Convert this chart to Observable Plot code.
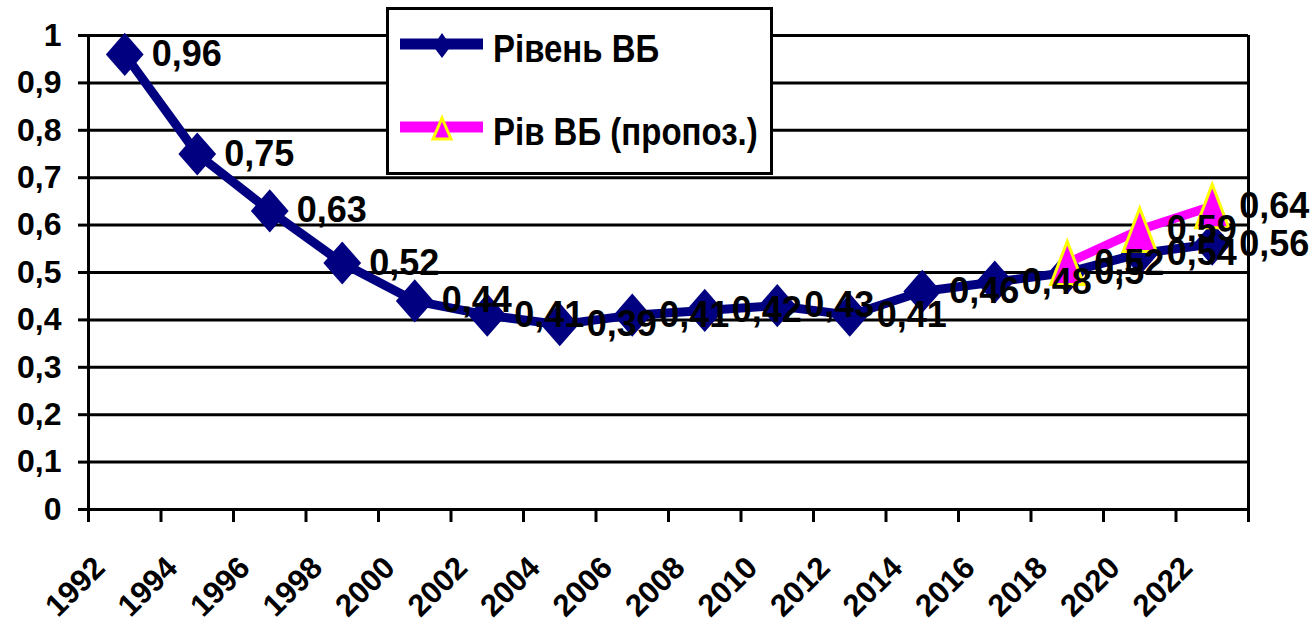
<!DOCTYPE html>
<html>
<head>
<meta charset="utf-8">
<script src="https://cdn.jsdelivr.net/npm/d3@7"></script>
<script src="https://cdn.jsdelivr.net/npm/@observablehq/plot@0.6"></script>
<style>
  html, body { margin: 0; padding: 0; background: #fff; }
  #wrap { position: relative; width: 1314px; height: 631px; font-family: "Liberation Sans", Arial, sans-serif; }
  #legend { position: absolute; left: 386px; top: 7px; width: 381px; height: 162px; border: 3px solid #000; background: #fff; }
</style>
</head>
<body>
<div id="wrap"><div id="chart"></div><div id="legend"></div></div>
<script>
// ---- data ----
const years = [1992, 1994, 1996, 1998, 2000, 2002, 2004, 2006, 2008, 2010, 2012, 2014, 2016, 2018, 2020, 2022];
const level = [0.96, 0.75, 0.63, 0.52, 0.44, 0.41, 0.39, 0.41, 0.42, 0.43, 0.41, 0.46, 0.48, 0.5, 0.54, 0.56];
const forecastYears = [2018, 2020, 2022];
const forecast = [0.52, 0.59, 0.64];
const yTicks = [0, 0.1, 0.2, 0.3, 0.4, 0.5, 0.6, 0.7, 0.8, 0.9, 1];
const seriesNames = ["Рівень ВБ", "Рів ВБ (пропоз.)"];

const navy = "#000080", magenta = "#FF00FF", yellow = "#FFFF00";
const fmt = v => String(v).replace(".", ",");

// category boundaries (each category is 2 years wide, centred on its label year)
const xMin = years[0] - 1, xMax = years[years.length - 1] + 1;
const boundaries = years.map(y => y - 1).concat([xMax]);

const diamond = {
  draw(ctx, size) {
    const r = Math.sqrt(size / Math.PI);
    const h = r * 1.2, w = r * 1.05;
    ctx.moveTo(0, -h); ctx.lineTo(w, 0); ctx.lineTo(0, h); ctx.lineTo(-w, 0); ctx.closePath();
  }
};
const triangle = {
  draw(ctx, size) {
    const r = Math.sqrt(size / Math.PI);
    const h = r * 1.2, w = r * 0.92;
    ctx.moveTo(0, -h); ctx.lineTo(w, h); ctx.lineTo(-w, h); ctx.closePath();
  }
};

const font = "'Liberation Sans', Arial, sans-serif";

const chart = Plot.plot({
  width: 1314,
  height: 631,
  marginLeft: 88,
  marginRight: 66,
  marginTop: 35,
  marginBottom: 122,
  style: { fontFamily: font, background: "#fff", color: "#000", overflow: "visible" },
  x: { type: "linear", domain: [xMin, xMax] },
  y: { domain: [0, 1] },
  marks: [
    Plot.gridY(yTicks, { stroke: "#000", strokeOpacity: 1, strokeWidth: 3 }),
    Plot.axisY(yTicks, { tickSize: 10, tickPadding: 17, strokeWidth: 3, fontSize: 32, fontWeight: "bold", tickFormat: fmt, label: null }),
    Plot.axisX(boundaries, { tickSize: 13, strokeWidth: 3, tickFormat: () => "", label: null }),
    Plot.ruleX([xMin, xMax], { stroke: "#000", strokeWidth: 3 }),
    Plot.text(years, { x: years, frameAnchor: "bottom", text: years.map(String), dy: 53, dx: -25, rotate: -45, textAnchor: "end", lineAnchor: "middle", fontSize: 31, fontWeight: "bold", fill: "#000", ariaLabel: "xlabels" }),
    Plot.line(level, { x: years, y: level, stroke: navy, strokeWidth: 9, strokeLinejoin: "round" }),
    Plot.dot(level, { x: years, y: level, symbol: diamond, r: 18, fill: navy, stroke: "none" }),
    Plot.line(forecast, { x: forecastYears, y: forecast, stroke: magenta, strokeWidth: 9, strokeLinejoin: "round" }),
    Plot.dot(forecast, { x: forecastYears, y: forecast, symbol: triangle, r: 18, fill: magenta, stroke: yellow, strokeWidth: 3 }),
    Plot.text(level, { x: years, y: level, text: level.map(fmt), dx: 27, textAnchor: "start", lineAnchor: "middle", fontSize: 36, fontWeight: "bold", fill: "#000", ariaLabel: "vlabels" }),
    Plot.text(forecast, { x: forecastYears, y: forecast, text: forecast.map(fmt), dx: 27, textAnchor: "start", lineAnchor: "middle", fontSize: 36, fontWeight: "bold", fill: "#000", ariaLabel: "vlabels" })
  ]
});
document.getElementById("chart").appendChild(chart);

// slight vertical stretch of the value labels, as in the reference rendering
d3.select(chart).selectAll('g[aria-label="vlabels"] text').each(function () {
  const t = d3.select(this);
  const tr = t.attr("transform");
  if (tr) {
    t.attr("transform", tr + " scale(1,1.12)");
  } else {
    const x = +t.attr("x") || 0, y = +t.attr("y") || 0;
    t.attr("x", null).attr("y", null).attr("transform", `translate(${x},${y}) scale(1,1.12)`);
  }
});

// ---- legend (overlaid box) ----
const lg = d3.select("#legend").append("svg").attr("width", 381).attr("height", 162).style("display", "block");
const rows = [
  { name: seriesNames[0], color: navy, y: 34, tx: 52, sym: "diamond" },
  { name: seriesNames[1], color: magenta, y: 117, tx: 135, sym: "triangle" }
];
rows.forEach(r => {
  lg.append("line").attr("x1", 11).attr("x2", 94).attr("y1", r.y).attr("y2", r.y)
    .attr("stroke", r.color).attr("stroke-width", 11);
  if (r.sym === "diamond") {
    lg.append("path").attr("d", "M53,23 L62,36 L53,48 L44,36 Z").attr("fill", navy);
  } else {
    lg.append("path").attr("d", "M53,108 L62,129 L44,129 Z").attr("fill", magenta)
      .attr("stroke", yellow).attr("stroke-width", 3);
  }
  lg.append("text").attr("transform", `translate(104,${r.tx}) scale(1,1.2)`)
    .attr("font-family", font).attr("font-weight", "bold").attr("font-size", 33)
    .attr("fill", "#000").text(r.name);
});
</script>
</body>
</html>
